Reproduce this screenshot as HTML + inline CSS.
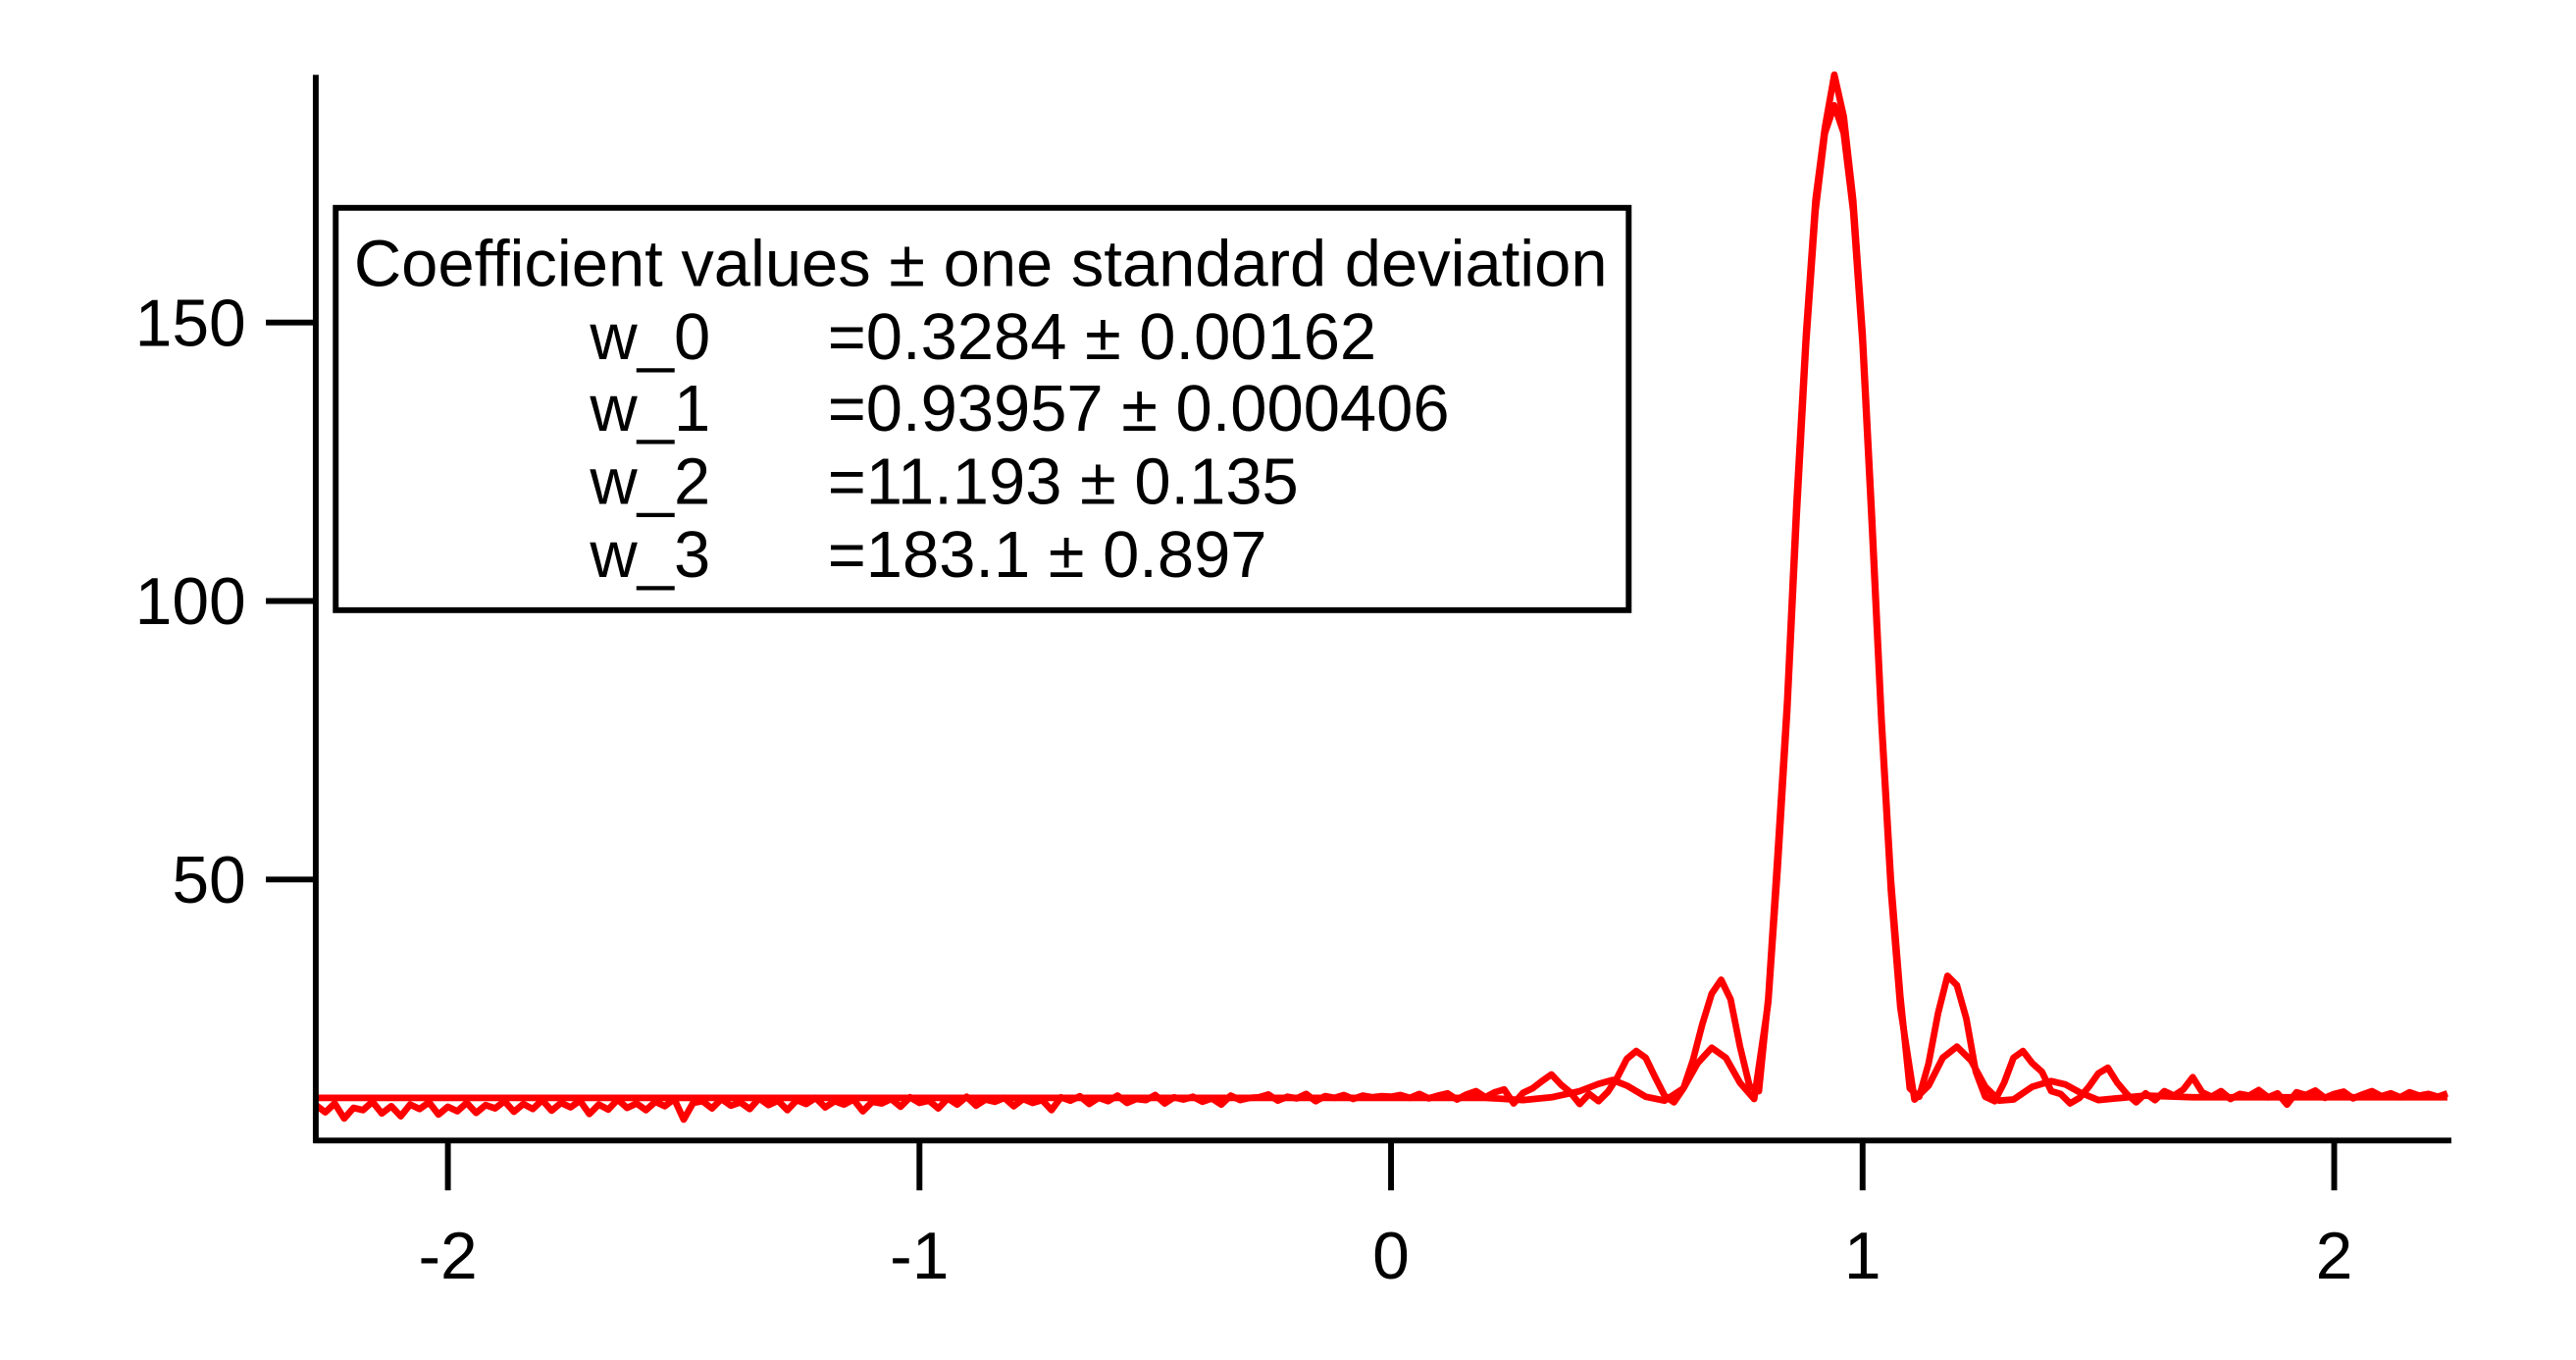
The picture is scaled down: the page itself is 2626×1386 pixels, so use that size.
<!DOCTYPE html>
<html><head><meta charset="utf-8"><style>
html,body{margin:0;padding:0;background:#fff;}
svg{display:block;}
text{font-family:"Liberation Sans",Arial,sans-serif;fill:#000;}
</style></head><body>
<svg id="chart" width="2626" height="1386" viewBox="0 0 1550 818" preserveAspectRatio="none" xmlns="http://www.w3.org/2000/svg">
<rect x="0" y="0" width="1550" height="818" fill="#fff"/>
<g id="plot"></g>
<g id="axes"></g>
<g>
<rect x="202" y="125" width="778" height="242" fill="#fff" stroke="#000" stroke-width="3.5"/>
<text x="213" y="172" font-size="39.5">Coefficient values ± one standard deviation</text>
<text x="355" y="216" font-size="39.5">w_0</text>
<text x="498" y="216" font-size="39.5">=0.3284 ± 0.00162</text>
<text x="355" y="259" font-size="39.5">w_1</text>
<text x="498" y="259" font-size="39.5">=0.93957 ± 0.000406</text>
<text x="355" y="303" font-size="39.5">w_2</text>
<text x="498" y="303" font-size="39.5">=11.193 ± 0.135</text>
<text x="355" y="347" font-size="39.5">w_3</text>
<text x="498" y="347" font-size="39.5">=183.1 ± 0.897</text>
</g>
</svg>
<script>
const xTicks=[-2,-1,0,1,2];
const xTickLabels=["-2","-1","0","1","2"];
const yTicks=[50,100,150];
const yTickLabels=["50","100","150"];
const dataXStart=-2.28, dataXStep=0.02;
const dataY=[9.5,8.2,9.8,7.1,9.0,8.6,10.1,8.0,9.3,7.5,9.6,8.8,10.0,7.8,9.2,8.4,9.9,8.1,9.5,8.9,
10.2,8.3,9.7,8.8,10.4,8.5,9.9,9.1,10.3,7.9,9.6,8.7,10.5,9.0,9.8,8.6,10.1,9.3,10.6,6.9,
9.9,10.2,8.9,10.6,9.4,10.0,8.8,10.7,9.5,10.3,8.6,10.4,9.7,10.8,9.1,10.2,9.6,10.5,8.4,10.1,
9.8,10.6,9.2,10.9,9.9,10.3,8.9,10.7,9.6,11.0,9.4,10.5,10.1,10.8,9.3,10.6,9.9,10.4,8.6,10.9,
10.3,11.1,9.7,10.8,10.2,11.2,9.9,10.6,10.4,11.3,9.8,10.9,10.5,11.0,10.1,10.7,9.6,11.2,10.4,10.8,
10.9,11.4,10.3,11.0,10.7,11.5,10.2,11.1,10.8,11.3,10.6,11.2,10.9,11.1,
11.0,11.3,10.8,11.5,10.7,11.2,11.6,10.5,11.4,12.0,10.9,11.8,12.3,9.8,11.7,
12.5,13.8,15.0,13.2,11.8,9.7,11.5,10.2,11.9,14.5,17.8,19.2,18.0,14.5,11.2,10.0,12.5,17.5,24.0,29.5,32.0,28.5,20.0,13.0,12.0,
28.8,55,82,118,148,172,185,194.5,187,172,148,115,79,50,29,12.5,
11.0,17,26,32.7,31,25,15.5,11.0,10.2,13.5,18.0,19.2,17.0,15.5,12.0,11.5,9.8,10.8,12.8,15.2,16.2,13.5,11.5,10.0,11.6,10.4,12.0,11.2,12.3,14.5,
11.8,11.0,12.0,10.6,11.5,11.2,12.2,10.9,11.6,9.6,11.8,11.3,12.1,10.8,11.5,11.9,10.7,11.4,12.0,11.1,11.6,10.9,11.8,11.2,11.5,11.0,11.6];
const fitX=[-2.28,0.2,0.28,0.34,0.40,0.44,0.47,0.50,0.54,0.58,0.62,0.65,0.68,0.71,0.74,0.77,0.80,0.82,0.84,0.86,0.88,0.90,0.92,0.94,0.96,0.98,1.00,1.02,1.04,1.06,1.08,1.11,1.14,1.17,1.20,1.23,1.26,1.29,1.32,1.36,1.40,1.43,1.46,1.50,1.55,1.60,1.70,2.24];
const fitY=[10.8,10.8,10.4,10.9,12.0,13.3,14.0,13.0,11.0,10.3,12.5,17.0,19.8,18.0,13.5,10.6,28,52,80,115,146,170,184,189,184,170,146,113,78,48,27,10.5,13,18,20,17.5,12.8,10.3,10.5,12.8,13.8,13.2,11.8,10.4,10.8,11.2,10.9,10.9];

const NS="http://www.w3.org/2000/svg";
const X=v=>837+v*283.75;
const Y=v=>696.5-v*3.35;
const plot=document.getElementById('plot'), axes=document.getElementById('axes');
function mk(tag,attrs,parent){const e=document.createElementNS(NS,tag);for(const k in attrs)e.setAttribute(k,attrs[k]);parent.appendChild(e);return e;}

let d1=dataY.map((v,i)=>(i?'L':'M')+X(dataXStart+i*dataXStep).toFixed(2)+' '+Y(v).toFixed(2)).join(' ');
const p1=mk('path',{d:d1,fill:'none',stroke:'#ff0000','stroke-width':4,'stroke-linejoin':'round'},plot);


let d2=fitX.map((x,i)=>(i?'L':'M')+X(x).toFixed(2)+' '+Y(fitY[i]).toFixed(2)).join(' ');
const p2=mk('path',{d:d2,fill:'none',stroke:'#ff0000','stroke-width':4,'stroke-linejoin':'round'},plot);



const ya=mk('line',{x1:190,y1:45,x2:190,y2:687.5,stroke:'#000','stroke-width':3.5},axes);


const xa=mk('line',{x1:188.5,y1:686,x2:1475,y2:686,stroke:'#000','stroke-width':3.5},axes);


xTicks.forEach((t,i)=>{
  const tk=mk('line',{x1:X(t),y1:686,x2:X(t),y2:716,stroke:'#000','stroke-width':3.5},axes);
  
  
  const lb=mk('text',{x:X(t),y:769,'font-size':40,'text-anchor':'middle'},axes);
  lb.textContent=xTickLabels[i];
  
  
});
yTicks.forEach((t,i)=>{
  const tk=mk('line',{x1:160,y1:Y(t),x2:190,y2:Y(t),stroke:'#000','stroke-width':3.5},axes);
  
  
  const lb=mk('text',{x:148,y:Y(t)+14,'font-size':40,'text-anchor':'end'},axes);
  lb.textContent=yTickLabels[i];
  
  
});
</script>
</body></html>
